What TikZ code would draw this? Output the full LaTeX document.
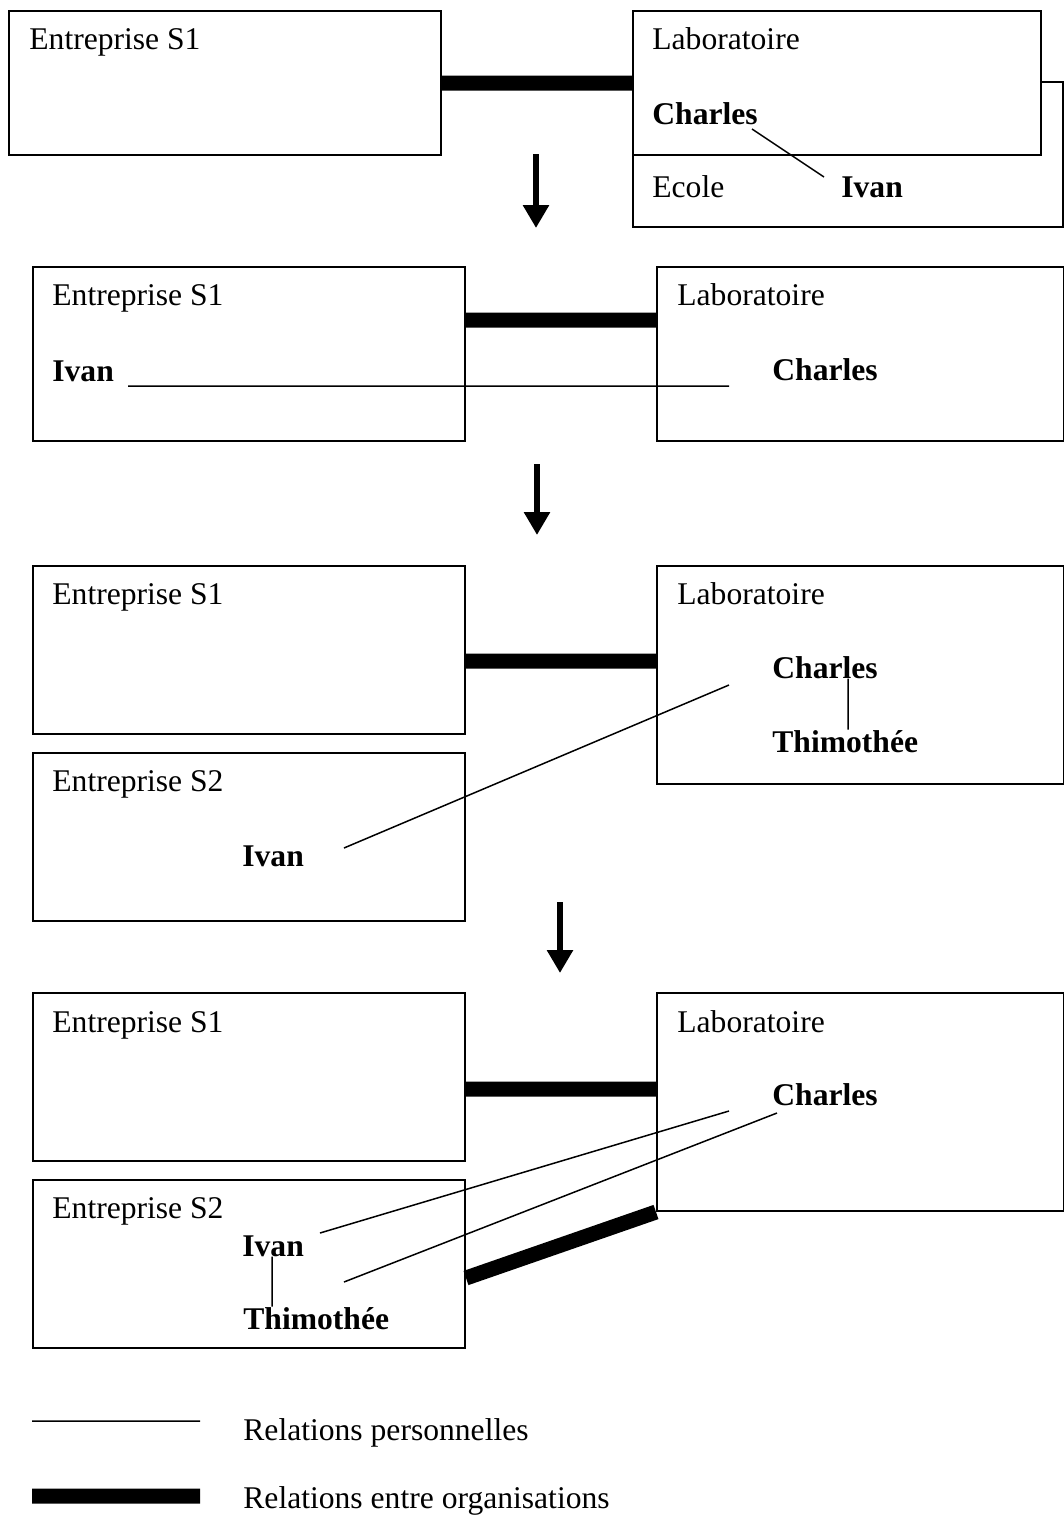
\documentclass[tikz,border=0pt]{standalone}
\usepackage{fontspec}
\setmainfont{Liberation Serif}
\usetikzlibrary{arrows.meta}
\tikzset{
	cadre/.style={draw,line width=1pt,fill=white,inner sep=0pt,anchor=north west},
	txt/.style={anchor=base west,inner sep=0pt,font=\fontsize{15.8pt}{19pt}\selectfont},
	nom/.style={txt,font=\fontsize{15.8pt}{19pt}\selectfont\bfseries},
	perso/.style={line width=.75pt},
	orga/.style={line width=7.5pt},
	fleche/.style={line width=3pt,-{Triangle[width=12.5pt,length=11.5pt]}}
}
\begin{document}
\begin{tikzpicture}[x=.5pt,y=-.5pt]
	\useasboundingbox (0,0) rectangle (1064,1528);
	\foreach \n/\x/\y/\w/\h in {eco/632/81/430/145,s1a/8/10/432/144,laba/632/10/408/144,
		s1b/32/266/432/174,labb/656/266/407/174,
		s1c/32/565/432/168,s2c/32/752/432/168,labc/656/565/407/218,
		s1d/32/992/432/168,s2d/32/1179/432/168,labd/656/992/407/218}
		\node[cadre,minimum width=\w*.5pt,minimum height=\h*.5pt] (\n) at (\x,\y) {};
	\foreach \n/\x/\y/\t in {e1a/29/49/Entreprise S1,l1a/652/49/Laboratoire,ec/652/197/Ecole,
		e1b/52/305/Entreprise S1,l1b/677/305/Laboratoire,
		e1c/52/604/Entreprise S1,e2c/52/791/Entreprise S2,l1c/677/604/Laboratoire,
		e1d/52/1032/Entreprise S1,e2d/52/1218/Entreprise S2,l1d/677/1032/Laboratoire,
		leg1/243/1440/Relations personnelles,leg2/243/1508/Relations entre organisations}
		\node[txt] (\n) at (\x,\y) {\t};
	\foreach \n/\x/\y/\t in {cha/652/124/Charles,iva/841/197/Ivan,
		ivb/52/381/Ivan,chb/772/380/Charles,
		chc/772/678/Charles,thc/772/752/Thimothée,ivc/242/866/Ivan,
		chd/772/1105/Charles,ivd/242/1256/Ivan,thd/243/1329/Thimothée}
		\node[nom] (\n) at (\x,\y) {\t};
	\path (752,129) coordinate (p1) (824,177) coordinate (q1)
	(128,386) coordinate (p2) (729,386) coordinate (q2)
	(344,848) coordinate (p3) (729,685) coordinate (q3)
	(320,1233) coordinate (p4) (729,1111) coordinate (q4)
	(344,1282) coordinate (p5) (777,1113) coordinate (q5)
	(848,0) coordinate (v3) (272,0) coordinate (v4)
	(0,320) coordinate (o2) (0,661) coordinate (o3) (0,1089) coordinate (o4) (0,1278) coordinate (o5)
	(536,154) coordinate (f1) (537,464) coordinate (f2)++(0,71) coordinate (g2)
	(560,902) coordinate (f3)++(0,71) coordinate (g3)
	(32,1421) coordinate (t1)++(168,0) coordinate (u1) (32,1496) coordinate (t2)++(168,0) coordinate (u2);
	\draw[perso] (p1)--(q1) (p2)--(q2) (p3)--(q3) (p4)--(q4) (p5)--(q5) (t1)--(u1)
	(chc.south -| v3)--(thc.north -| v3) (ivd.south -| v4)--(thd.north -| v4);
	\draw[orga] (s1a.east)--(laba.west) (s1b.east |- o2)--(labb.west |- o2)
	(s1c.east |- o3)--(labc.west |- o3) (s1d.east |- o4)--(labd.west |- o4)
	(s2d.east |- o5)--(labd.south west) (t2)--(u2);
	\draw[fleche] (f1)--(f1 |- eco.south);
	\draw[fleche] (f2)--(g2);
	\draw[fleche] (f3)--(g3);
\end{tikzpicture}
\end{document}
